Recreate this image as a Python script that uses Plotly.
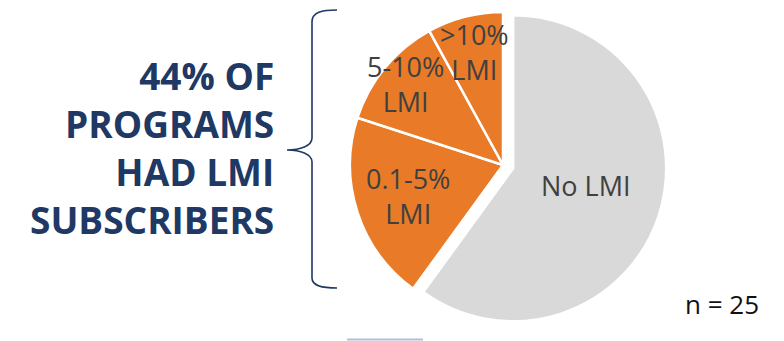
import math
import plotly.graph_objects as go

# Share of programs by LMI subscriber level (counts, n = 25)
categories = ["No LMI", "0.1-5% LMI", "5-10% LMI", ">10% LMI"]
counts = [15, 5, 3, 2]
slice_colors = ["#D9D9D9", "#E97A28", "#E97A28", "#E97A28"]
slice_pull = [0.07, 0, 0, 0]

headline = "44% OF<br>PROGRAMS<br>HAD LMI<br>SUBSCRIBERS"
sample_note = "n = 25"

W, H = 784, 341
NAVY = "#203864"
TEXT_GRAY = "#404040"

# pie placement (pixels)
CX, CY = 503, 165
R_TARGET = 153
BOX = 2 * R_TARGET * (1 + max(slice_pull))


def px(x, y):
    """pixel position -> paper coordinates"""
    return x / W, 1 - y / H


fig = go.Figure()

x0, _ = px(CX - 200, 0)
x1, _ = px(CX + 200, 0)
y0 = 1 - (CY + BOX / 2) / H
y1 = y0 + BOX / H

fig.add_trace(go.Pie(
    labels=categories,
    values=counts,
    sort=False,
    direction="clockwise",
    rotation=0,
    pull=slice_pull,
    marker=dict(colors=slice_colors, line=dict(color="white", width=2.5)),
    textinfo="none",
    hoverinfo="label+value+percent",
    domain=dict(x=[x0, x1], y=[y0, min(y1, 1.0)]),
    showlegend=False,
))

# radius actually used by the pie
R = BOX / (2 + 2 * max(slice_pull))

# slice labels placed along each slice's bisector
label_radius = [0.49, 0.65, 0.83, 0.76]
label_turn = [-5, 0, 0, 0]
total = sum(counts)
start = 0.0
annotations = []
for cat, val, pull, rf, turn in zip(categories, counts, slice_pull, label_radius, label_turn):
    span = 360 * val / total
    mid = math.radians(start + span / 2)
    dx, dy = math.sin(mid), -math.cos(mid)
    ox, oy = CX + dx * pull * R, CY + dy * pull * R
    lm = mid + math.radians(turn)
    lx, ly = ox + math.sin(lm) * rf * R, oy - math.cos(lm) * rf * R
    xp, yp = px(lx, ly)
    annotations.append(dict(
        x=xp, y=yp, xref="paper", yref="paper",
        text=cat.replace(" LMI", "<br>LMI") if cat != "No LMI" else cat,
        showarrow=False, xanchor="center", yanchor="middle",
        font=dict(family="Open Sans", size=27, color=TEXT_GRAY),
    ))
    start += span

hx, hy = px(276, 147)
annotations.append(dict(
    x=hx, y=hy, xref="paper", yref="paper", text="<b>" + headline + "</b>",
    showarrow=False, xanchor="right", yanchor="middle", align="right",
    font=dict(family="Open Sans", size=37, color=NAVY),
))

nx, ny = px(722, 304)
annotations.append(dict(
    x=nx, y=ny, xref="paper", yref="paper", text=sample_note,
    showarrow=False, xanchor="center", yanchor="middle",
    font=dict(family="Open Sans", size=26, color="#111111"),
))

# curly brace grouping the LMI slices
brace_pts = [
    ("M", [(337, 10)]),
    ("C", [(322, 10), (312, 12), (312, 22)]),
    ("L", [(312, 138)]),
    ("C", [(312, 146), (300, 150), (287, 150)]),
    ("C", [(300, 150), (312, 154), (312, 162)]),
    ("L", [(312, 278)]),
    ("C", [(312, 286), (322, 288), (337, 288)]),
]
path = ""
for cmd, pts in brace_pts:
    path += cmd + " " + " ".join("%.5f,%.5f" % px(x, y) for x, y in pts) + " "

shapes = [
    dict(type="path", xref="paper", yref="paper", path=path.strip(),
         line=dict(color=NAVY, width=1.6)),
]
lx0, ly0 = px(347, 339.5)
lx1, _ = px(423, 339.5)
shapes.append(dict(type="line", xref="paper", yref="paper",
                   x0=lx0, x1=lx1, y0=ly0, y1=ly0,
                   line=dict(color="#B4BED6", width=2)))

fig.update_layout(
    width=W, height=H,
    margin=dict(l=0, r=0, t=0, b=0),
    paper_bgcolor="white",
    plot_bgcolor="white",
    annotations=annotations,
    shapes=shapes,
)

fig.write_html("out.html")
